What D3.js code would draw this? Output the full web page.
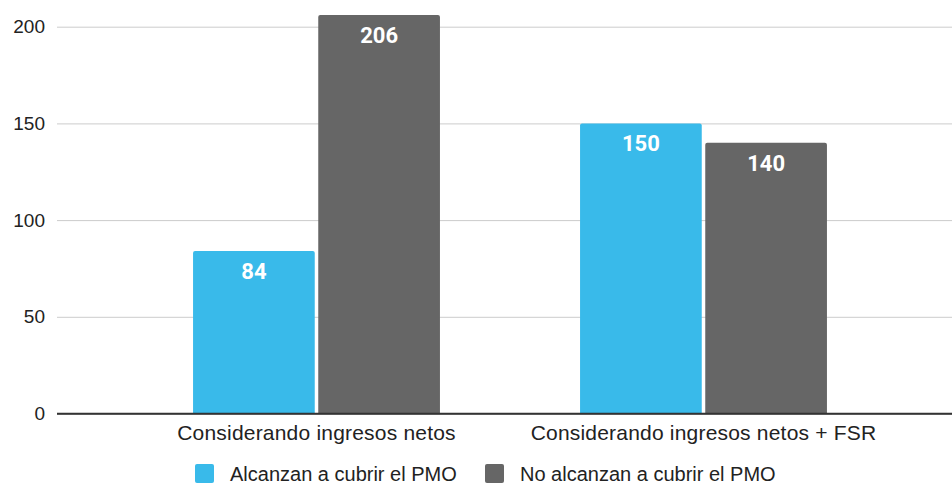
<!DOCTYPE html>
<html>
  <head>
    <meta charset="utf-8">
    <title>PMO</title>
    <script src="https://d3js.org/d3.v7.min.js"></script>
    <style>
      body { margin: 0; background: #ffffff; }
      svg { display: block; }
      .tick text { font-family: "Liberation Sans", Arial, sans-serif; }
    </style>
  </head>
  <body>
    <svg width="952" height="484"></svg>
    <script>
      var categories = ["Considerando ingresos netos", "Considerando ingresos netos + FSR"];
      var seriesNames = ["Alcanzan a cubrir el PMO", "No alcanzan a cubrir el PMO"];
      var alcanzan = [84, 150];
      var noAlcanzan = [206, 140];
      var yTicks = [0, 50, 100, 150, 200];
      var colors = ["#39baea", "#666666"];

      var svg = d3.select("svg");
      var plotLeft = 57, plotRight = 952, plotTop = 26.7, plotBottom = 413.5;

      var y = d3.scaleLinear().domain([0, 200]).range([plotBottom, plotTop]);
      var x0 = d3.scaleBand()
        .domain(categories)
        .range([123, 897])
        .paddingInner(0.362)
        .paddingOuter(0.181);
      var x1 = d3.scaleBand()
        .domain(seriesNames)
        .range([0, x0.bandwidth()])
        .paddingInner(0.028);

      // gridlines + y labels
      var yAxis = svg.append("g")
        .attr("transform", "translate(" + plotLeft + ",0)")
        .call(d3.axisLeft(y).tickValues(yTicks).tickSize(-(plotRight - plotLeft)).tickPadding(12));
      yAxis.select(".domain").remove();
      yAxis.selectAll(".tick line")
        .attr("stroke", function(d) { return d === 0 ? "#333333" : "#cccccc"; })
        .attr("stroke-width", function(d) { return d === 0 ? 1.3 : 1; });
      yAxis.selectAll(".tick text")
        .attr("font-size", 19)
        .attr("fill", "#222222");

      var rows = categories.map(function(c, i) {
        return [
          { cat: c, name: seriesNames[0], value: alcanzan[i], color: colors[0] },
          { cat: c, name: seriesNames[1], value: noAlcanzan[i], color: colors[1] }
        ];
      });

      function topRounded(xp, yp, w, h, r) {
        return "M" + xp + "," + (yp + h) +
          "V" + (yp + r) +
          "Q" + xp + "," + yp + " " + (xp + r) + "," + yp +
          "H" + (xp + w - r) +
          "Q" + (xp + w) + "," + yp + " " + (xp + w) + "," + (yp + r) +
          "V" + (yp + h) + "Z";
      }

      var groups = svg.selectAll("g.group")
        .data(rows)
        .enter().append("g")
        .attr("class", "group")
        .attr("transform", function(d, i) { return "translate(" + x0(categories[i]) + ",0)"; });

      groups.selectAll("path")
        .data(function(d) { return d; })
        .enter().append("path")
        .attr("d", function(d) {
          return topRounded(x1(d.name), y(d.value), x1.bandwidth(), y(0) - y(d.value), 2);
        })
        .attr("fill", function(d) { return d.color; });

      groups.selectAll("text")
        .data(function(d) { return d; })
        .enter().append("text")
        .attr("x", function(d) { return x1(d.name) + x1.bandwidth() / 2; })
        .attr("y", function(d) { return y(d.value) + 28; })
        .attr("text-anchor", "middle")
        .attr("font-family", "Roboto, sans-serif")
        .attr("font-weight", "bold")
        .attr("font-size", 22)
        .attr("fill", "#ffffff")
        .text(function(d) { return d.value; });

      // baseline on top of bars
      svg.append("line")
        .attr("x1", plotLeft).attr("x2", plotRight)
        .attr("y1", y(0)).attr("y2", y(0))
        .attr("stroke", "#333333").attr("stroke-width", 1.3);

      // x labels
      svg.selectAll("text.xlab")
        .data(categories)
        .enter().append("text")
        .attr("class", "xlab")
        .attr("x", function(d) { return x0(d) + x0.bandwidth() / 2; })
        .attr("y", 440)
        .attr("text-anchor", "middle")
        .attr("font-family", "Liberation Sans, Arial, sans-serif")
        .attr("font-size", 21)
        .attr("letter-spacing", 0.2)
        .attr("fill", "#222222")
        .text(function(d) { return d; });

      // legend
      var legendX = [195, 485];
      var legend = svg.selectAll("g.legend")
        .data(seriesNames)
        .enter().append("g")
        .attr("class", "legend")
        .attr("transform", function(d, i) { return "translate(" + legendX[i] + ",464)"; });
      legend.append("rect")
        .attr("width", 19).attr("height", 19).attr("rx", 2)
        .attr("fill", function(d, i) { return colors[i]; });
      legend.append("text")
        .attr("x", 35).attr("y", 17)
        .attr("font-family", "Liberation Sans, Arial, sans-serif")
        .attr("font-size", 20)
        .attr("fill", "#222222")
        .text(function(d) { return d; });
    </script>
  </body>
</html>
